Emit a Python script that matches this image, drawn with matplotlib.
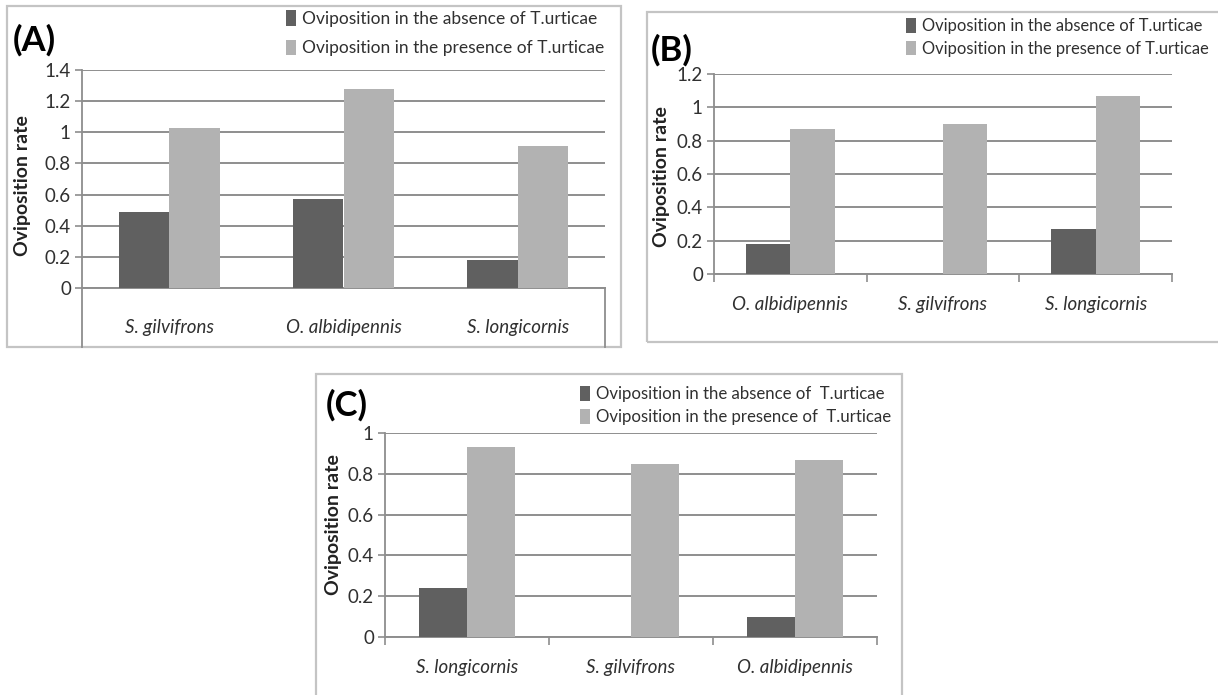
import numpy as np
import matplotlib
matplotlib.use("Agg")
import matplotlib.pyplot as plt
from matplotlib.patches import Rectangle
from matplotlib.lines import Line2D

plt.rcParams["font.family"] = ["Lato", "DejaVu Sans"]

# data
species_a = ["S. gilvifrons", "O. albidipennis", "S. longicornis"]
absent_a = [0.49, 0.57, 0.18]
present_a = [1.03, 1.28, 0.91]
yticks_a = [0, 0.2, 0.4, 0.6, 0.8, 1.0, 1.2, 1.4]
ylabels_a = ["0", "0.2", "0.4", "0.6", "0.8", "1", "1.2", "1.4"]

species_b = ["O. albidipennis", "S. gilvifrons", "S. longicornis"]
absent_b = [0.18, 0.0, 0.27]
present_b = [0.87, 0.90, 1.07]
yticks_b = [0, 0.2, 0.4, 0.6, 0.8, 1.0, 1.2]
ylabels_b = ["0", "0.2", "0.4", "0.6", "0.8", "1", "1.2"]

species_c = ["S. longicornis", "S. gilvifrons", "O. albidipennis"]
absent_c = [0.24, 0.0, 0.10]
present_c = [0.93, 0.85, 0.87]
yticks_c = [0, 0.2, 0.4, 0.6, 0.8, 1.0]
ylabels_c = ["0", "0.2", "0.4", "0.6", "0.8", "1"]

legend_ab = ["Oviposition in the absence of T.urticae",
             "Oviposition in the presence of T.urticae"]
legend_c = ["Oviposition in the absence of  T.urticae",
            "Oviposition in the presence of  T.urticae"]

W, H = 1218, 695
DARK = "#606060"
LIGHT = "#b2b2b2"
GRID = "#8e8e8e"
BORDER = "#c4c4c4"
TXT = "#303030"

fig = plt.figure(figsize=(W / 100, H / 100), dpi=100)


def fx(x):
    return x / W


def fy(y):
    return 1 - y / H


def frame(l, t, r, b):
    fig.add_artist(Rectangle((fx(l), fy(b)), fx(r - l), (b - t) / H,
                             transform=fig.transFigure, fill=False,
                             edgecolor=BORDER, lw=1.6))


def vline(x, y0, y1, color=GRID):
    fig.add_artist(Line2D([fx(x), fx(x)], [fy(y0), fy(y1)],
                          transform=fig.transFigure, color=color, lw=1.3))


def panel(box, species, absent, present, ticks, labels, legtext, legsize,
          legspace, legpos, letter, letterpos, ylabpos, labpad,
          boundary_ticks):
    l, t, r, b = box
    ax = fig.add_axes([fx(l), fy(b), fx(r - l), (b - t) / H])
    x = np.arange(len(species))
    w = 0.29
    ax.bar(x - w / 2, absent, w, color=DARK, label=legtext[0], zorder=3)
    ax.bar(x + w / 2, present, w, color=LIGHT, label=legtext[1], zorder=3)
    ax.set_xlim(-0.5, len(species) - 0.5)
    ax.set_ylim(0, ticks[-1])
    ax.set_yticks(ticks)
    ax.set_yticklabels(labels, fontsize=13.5, color=TXT)
    ax.yaxis.grid(True, color=GRID, lw=1.4, zorder=0)
    ax.tick_params(axis="y", length=5, width=1.2, color=GRID, pad=3)
    ax.set_xticks(x)
    ax.set_xticklabels(species, fontsize=13.5, style="italic", color=TXT)
    ax.tick_params(axis="x", length=0, pad=labpad)
    if boundary_ticks:
        ax.set_xticks(np.arange(len(species) + 1) - 0.5, minor=True)
        ax.tick_params(axis="x", which="minor", length=6, width=1.2,
                       color=GRID)
    for s in ["top", "right"]:
        ax.spines[s].set_visible(False)
    ax.spines["left"].set_color(GRID)
    ax.spines["left"].set_linewidth(1.3)
    ax.spines["bottom"].set_color(GRID)
    ax.spines["bottom"].set_linewidth(1.4)
    ax.set_axisbelow(True)
    ax.legend(loc="upper left", bbox_to_anchor=(fx(legpos[0]), fy(legpos[1])),
              bbox_transform=fig.transFigure, frameon=False, fontsize=legsize,
              handlelength=0.6, handleheight=1.0, handletextpad=0.35,
              labelspacing=legspace, borderaxespad=0, borderpad=0,
              labelcolor=TXT)
    fig.text(fx(letterpos[0]), fy(letterpos[1]), letter, fontsize=25,
             fontweight="bold", ha="left", va="center", color="black")
    fig.text(fx(ylabpos[0]), fy(ylabpos[1]), "Oviposition rate", fontsize=14,
             fontweight="bold", rotation=90, ha="center", va="center",
             color="#222222")
    return ax


# (A)
frame(7, 6, 621, 347)
panel((82, 70, 605, 288), species_a, absent_a, present_a, yticks_a,
      ylabels_a, legend_ab, 12.5, 0.75, (286, 10), "(A)", (13, 40), (23, 186),
      22, False)
vline(82, 288, 347)
vline(605, 288, 347)

# (B)
frame(647, 12, 1230, 342)
panel((714, 74, 1172, 274), species_b, absent_b, present_b, yticks_b,
      ylabels_b, legend_ab, 11.9, 0.4, (906, 18), "(B)", (651, 50),
      (662, 177), 16, True)

# (C)
frame(316, 374, 902, 700)
panel((385, 433, 877, 637), species_c, absent_c, present_c, yticks_c,
      ylabels_c, legend_c, 12.1, 0.4, (580, 386), "(C)", (326, 405),
      (333, 525), 16, True)

fig.savefig("out.png", dpi=100)
